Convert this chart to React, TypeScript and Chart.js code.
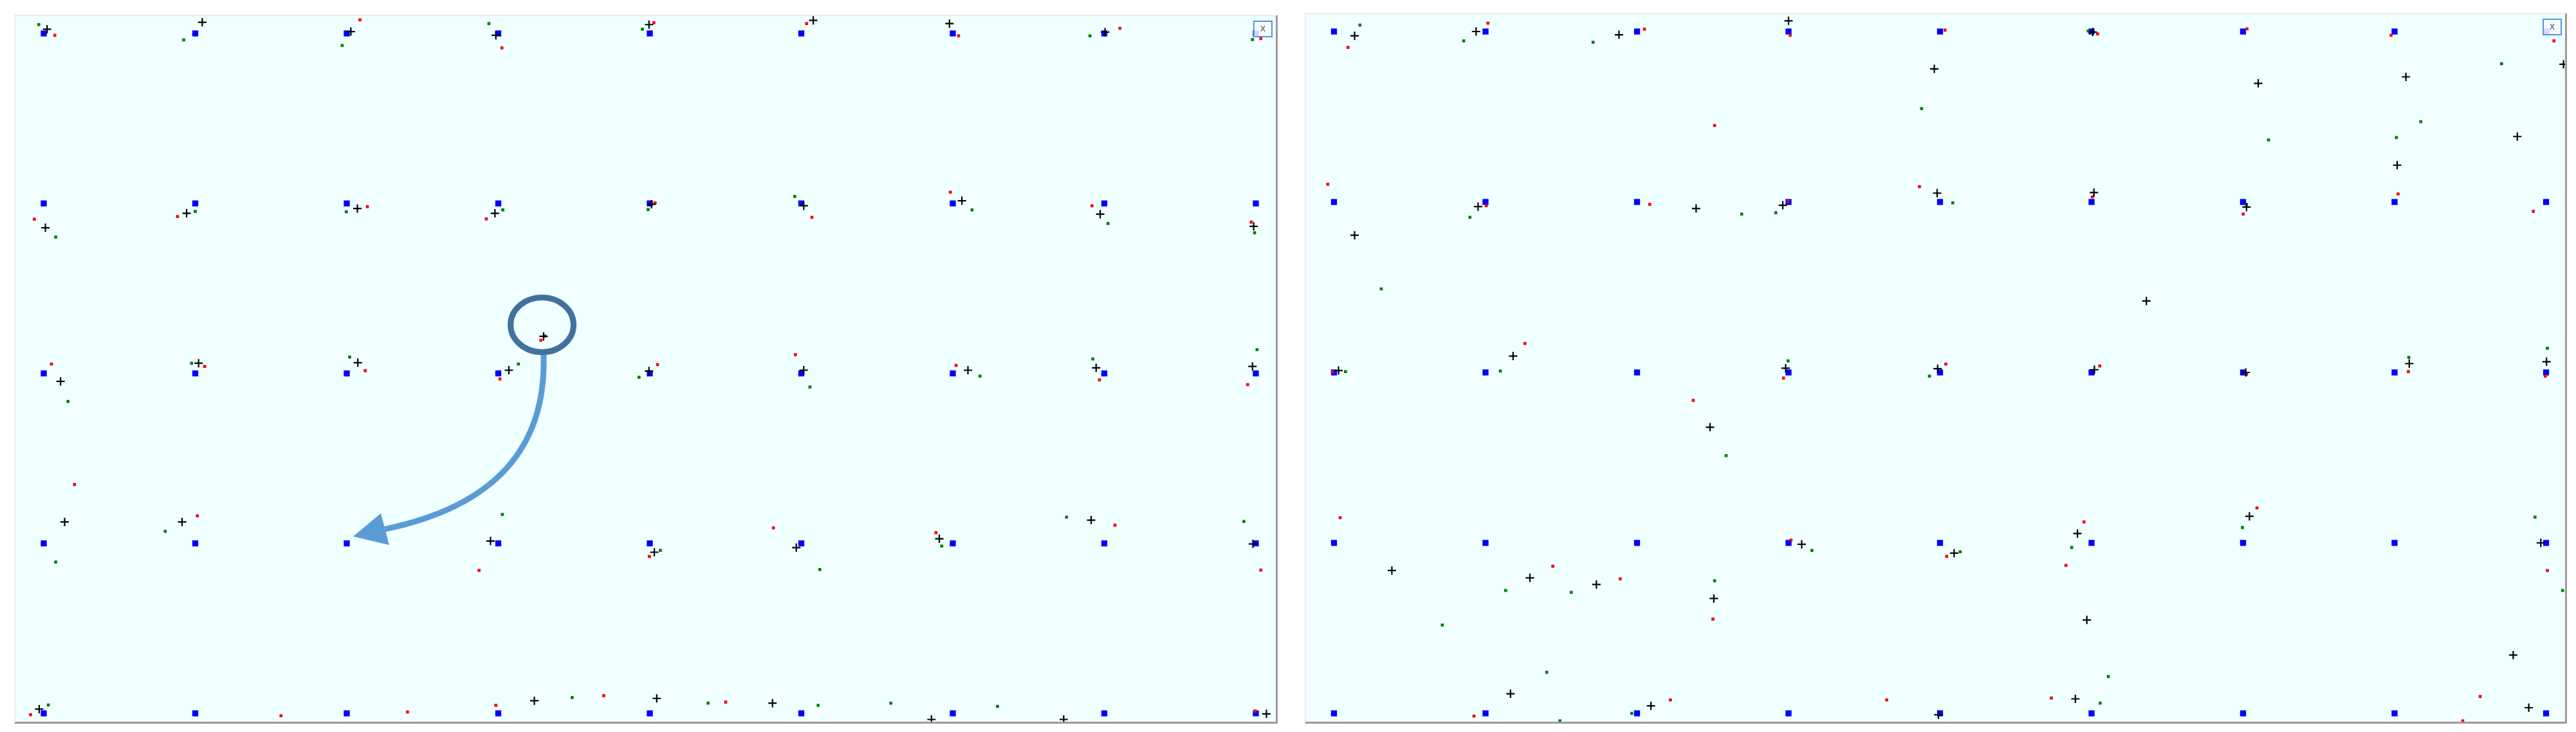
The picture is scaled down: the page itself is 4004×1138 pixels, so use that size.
import React, { useEffect, useRef } from 'react';
import { Chart, registerables } from 'chart.js';
Chart.register(...registerables);

// grid of reference points (blue squares)
const gridCols = [0, 1, 2, 3, 4, 5, 6, 7, 8];
const gridRows = [0, 1, 2, 3, 4];

// ---- left panel ----
const leftRed: [number, number][] = [
  [0.073, 3.989], [2.087, 4.08], [3.024, 3.915], [4.027, 4.063], [5.035, 4.058], [6.038, 3.986], [7.103, 4.03], [8.033, 3.97],
  [-0.062, 2.907], [0.883, 2.923], [2.136, 2.981], [2.921, 2.909], [4.035, 3.003], [5.07, 2.918], [5.984, 3.066], [6.919, 2.986], [7.97, 2.89],
  [0.051, 2.055], [1.062, 2.041], [2.122, 2.016], [3.011, 1.967], [3.281, 2.195], [4.051, 2.052], [4.961, 2.11], [6.022, 2.047], [6.968, 1.962], [7.946, 1.934],
  [0.203, 1.346], [1.014, 1.162], [2.873, 0.841], [3.997, 0.923], [4.816, 1.091], [5.889, 1.063], [7.07, 1.107], [8.033, 0.843],
  [-0.087, -0.008], [1.566, -0.014], [2.401, 0.008], [2.984, 0.047], [3.696, 0.104], [4.501, 0.066], [7.995, 0.014],
];
const leftGreen: [number, number][] = [
  [-0.033, 4.052], [0.924, 3.962], [1.97, 3.929], [2.938, 4.058], [3.951, 4.025], [6.905, 3.986], [7.978, 3.964],
  [0.079, 2.802], [1.0, 2.953], [1.997, 2.951], [3.03, 2.962], [3.989, 2.964], [4.957, 3.041], [6.127, 2.962], [7.024, 2.882], [7.992, 2.827],
  [0.16, 1.835], [0.976, 2.06], [2.019, 2.096], [3.133, 2.055], [3.307, 2.22], [3.929, 1.977], [5.057, 1.92], [6.179, 1.984], [6.924, 2.085], [8.008, 2.14],
  [0.079, 0.89], [0.802, 1.071], [3.027, 1.17], [4.07, 0.959], [5.122, 0.846], [5.927, 0.984], [6.751, 1.154], [7.921, 1.129],
  [0.03, 0.049], [3.488, 0.093], [4.385, 0.06], [5.111, 0.047], [5.591, 0.06], [6.295, 0.041],
];
const leftPlus: [number, number][] = [
  [0.022, 4.025], [1.046, 4.066], [2.027, 4.011], [2.984, 3.989], [3.995, 4.052], [5.079, 4.077], [5.978, 4.058], [7.005, 4.008],
  [0.011, 2.857], [0.943, 2.942], [2.07, 2.97], [2.978, 2.942], [4.011, 2.995], [5.016, 2.986], [6.06, 3.016], [6.973, 2.937], [7.986, 2.865],
  [0.111, 1.953], [1.022, 2.06], [2.073, 2.063], [3.07, 2.019], [3.299, 2.218], [3.995, 2.014], [5.016, 2.019], [6.1, 2.019], [6.946, 2.033], [7.978, 2.041],
  [0.138, 1.126], [0.913, 1.126], [2.949, 1.014], [4.03, 0.948], [4.967, 0.975], [5.911, 1.027], [6.913, 1.137], [7.981, 0.997],
  [-0.03, 0.025], [3.238, 0.074], [4.046, 0.088], [4.81, 0.06], [5.859, -0.036], [6.732, -0.036], [8.07, -0.003],
];

// ---- right panel ----
const rightRed: [number, number][] = [
  [0.092, 3.907], [1.016, 4.049], [2.049, 4.014], [3.011, 3.978], [2.512, 3.449], [4.033, 4.008], [5.04, 3.986], [6.026, 4.016], [6.977, 3.978], [8.052, 3.945],
  [-0.041, 3.104], [1.005, 2.978], [2.084, 2.986], [2.997, 3.005], [3.864, 3.09], [5.005, 3.03], [6.001, 2.929], [7.023, 3.047], [7.916, 2.945],
  [-0.011, 2.003], [1.26, 2.17], [2.371, 1.836], [2.967, 1.967], [4.038, 2.049], [5.054, 2.038], [6.023, 1.989], [7.091, 2.005], [7.995, 1.978],
  [0.041, 1.148], [1.444, 0.863], [1.889, 0.789], [2.501, 0.553], [3.016, 1.016], [4.044, 0.921], [4.95, 1.123], [4.831, 0.868], [6.092, 1.205], [8.009, 0.838],
  [0.924, -0.016], [2.22, 0.079], [3.648, 0.079], [4.735, 0.09], [7.565, 0.099], [7.45, -0.044],
];
const rightGreen: [number, number][] = [
  [0.171, 4.038], [0.856, 3.945], [1.71, 3.937], [3.878, 3.548], [4.978, 4.003], [6.168, 3.364], [7.173, 3.471], [7.012, 3.378], [7.706, 3.811],
  [0.312, 2.49], [0.897, 2.91], [2.691, 2.929], [2.916, 2.937], [4.084, 2.995], [6.023, 2.984],
  [0.076, 2.005], [1.098, 2.008], [2.588, 1.512], [2.997, 2.068], [3.93, 1.978], [7.094, 2.088], [8.009, 2.142],
  [0.715, 0.518], [1.133, 0.721], [1.566, 0.71], [3.154, 0.956], [2.512, 0.778], [4.133, 0.948], [4.869, 0.973], [5.996, 1.09], [7.927, 1.151], [8.109, 0.721], [5.111, 0.216],
  [1.404, 0.241], [1.491, -0.044], [1.965, 0.0], [5.057, 0.06],
];
const rightPlus: [number, number][] = [
  [0.136, 3.975], [0.938, 4.0], [1.881, 3.981], [3.0, 4.063], [5.008, 3.997], [6.1, 3.696], [7.075, 3.734], [7.017, 3.216], [8.115, 3.808], [7.81, 3.384], [3.962, 3.781],
  [0.136, 2.805], [0.951, 2.973], [2.39, 2.962], [2.962, 2.981], [3.981, 3.052], [5.016, 3.055], [6.023, 2.97], [5.362, 2.419],
  [0.03, 2.011], [1.182, 2.096], [2.482, 1.679], [2.981, 2.025], [3.984, 2.022], [5.019, 2.016], [6.018, 2.0], [7.097, 2.052], [8.003, 2.063],
  [0.382, 0.838], [1.293, 0.795], [1.732, 0.756], [2.507, 0.674], [3.087, 0.992], [4.093, 0.94], [4.907, 1.055], [4.969, 0.548], [6.042, 1.156], [7.965, 1.0],
  [1.165, 0.115], [2.092, 0.044], [3.989, -0.008], [4.893, 0.085], [7.783, 0.342], [7.886, 0.033],
];

// annotation (left panel), in data units
const circleCenter = [3.289, 2.286];
const circleRadii = [0.208, 0.161];
const arrowCurve = [[3.299, 2.115], [3.321, 1.548], [2.96, 1.215], [2.252, 1.084]];
const arrowHead = [[2.042, 1.041], [2.225, 1.177], [2.28, 0.991]];

const toPts = (arr: [number, number][]) => arr.map(([x, y]) => ({ x, y }));
const gridPts = gridRows.flatMap((r) => gridCols.map((c) => ({ x: c, y: r })));

const annotPlugin = {
  id: 'annot',
  afterDatasetsDraw(chart: any, _args: any, opts: any) {
    if (!opts || !opts.enabled) return;
    const { ctx } = chart;
    const xs = chart.scales.x, ys = chart.scales.y;
    const px = (v: number) => xs.getPixelForValue(v);
    const py = (v: number) => ys.getPixelForValue(v);
    ctx.save();
    ctx.strokeStyle = '#5b9bd5';
    ctx.lineWidth = 9;
    ctx.beginPath();
    ctx.moveTo(px(arrowCurve[0][0]), py(arrowCurve[0][1]));
    ctx.bezierCurveTo(
      px(arrowCurve[1][0]), py(arrowCurve[1][1]),
      px(arrowCurve[2][0]), py(arrowCurve[2][1]),
      px(arrowCurve[3][0]), py(arrowCurve[3][1])
    );
    ctx.stroke();
    ctx.fillStyle = '#5b9bd5';
    ctx.beginPath();
    ctx.moveTo(px(arrowHead[0][0]), py(arrowHead[0][1]));
    ctx.lineTo(px(arrowHead[1][0]), py(arrowHead[1][1]));
    ctx.lineTo(px(arrowHead[2][0]), py(arrowHead[2][1]));
    ctx.closePath();
    ctx.fill();
    const cx = px(circleCenter[0]), cy = py(circleCenter[1]);
    const rx = Math.abs(px(circleCenter[0] + circleRadii[0]) - cx);
    const ry = Math.abs(py(circleCenter[1] + circleRadii[1]) - cy);
    ctx.strokeStyle = '#41719c';
    ctx.lineWidth = 9;
    ctx.beginPath();
    ctx.ellipse(cx, cy, rx, ry, 0, 0, Math.PI * 2);
    ctx.stroke();
    ctx.restore();
  },
};

type PanelProps = {
  left: number; top: number; width: number; height: number;
  xMin: number; xMax: number; yMin: number; yMax: number;
  red: [number, number][]; green: [number, number][]; plus: [number, number][];
  annotate: boolean;
};

function Panel(p: PanelProps) {
  const ref = useRef<HTMLCanvasElement | null>(null);
  useEffect(() => {
    if (!ref.current) return;
    const chart = new Chart(ref.current, {
      type: 'scatter',
      data: {
        datasets: [
          { data: toPts(p.plus), pointStyle: 'cross', pointRadius: 6.5, borderColor: '#000000', borderWidth: 2.2, order: 0, clip: false } as any,
          { data: toPts(p.green), pointStyle: 'rect', pointRadius: 3.3, backgroundColor: '#008000', borderWidth: 0, order: 1, clip: false } as any,
          { data: toPts(p.red), pointStyle: 'rect', pointRadius: 3.3, backgroundColor: '#ff0000', borderWidth: 0, order: 2, clip: false } as any,
          { data: gridPts, pointStyle: 'rect', pointRadius: 6.6, backgroundColor: '#0000ff', borderWidth: 0, order: 3, clip: false } as any,
        ],
      },
      options: {
        animation: false,
        responsive: false,
        maintainAspectRatio: false,
        events: [],
        layout: { padding: 0, autoPadding: false },
        plugins: {
          legend: { display: false },
          tooltip: { enabled: false },
          annot: { enabled: p.annotate },
        } as any,
        scales: {
          x: { type: 'linear', min: p.xMin, max: p.xMax, display: false },
          y: { type: 'linear', min: p.yMin, max: p.yMax, display: false },
        },
      },
      plugins: [annotPlugin as any],
    });
    return () => chart.destroy();
  }, []);
  return (
    <div
      style={{
        position: 'absolute',
        left: p.left - 2,
        top: p.top - 2,
        width: p.width,
        height: p.height,
        borderTop: '2px solid #ececec',
        borderLeft: '2px solid #ececec',
        borderRight: '3px solid #9a9a9a',
        borderBottom: '3px solid #9a9a9a',
        background: '#f0ffff',
      }}
    >
      <canvas ref={ref} width={p.width} height={p.height} style={{ display: 'block', width: p.width, height: p.height }} />
      <div
        style={{
          position: 'absolute',
          right: 5,
          top: 7,
          width: 26,
          height: 22,
          border: '2px solid #4f96dc',
          background: 'rgba(245,252,255,0.85)',
          color: '#666',
          fontFamily: 'DejaVu Sans, sans-serif',
          fontSize: 15,
          lineHeight: '20px',
          textAlign: 'center',
        }}
      >
        x
      </div>
    </div>
  );
}

export default function App() {
  return (
    <div style={{ position: 'absolute', left: 0, top: 0, width: 4004, height: 1138, background: '#ffffff' }}>
      <Panel left={24} top={25} width={1959} height={1097}
        xMin={-0.1868} xMax={8.1317} yMin={-0.0492} yMax={4.1022}
        red={leftRed} green={leftGreen} plus={leftPlus} annotate={true} />
      <Panel left={2030} top={22} width={1957} height={1100}
        xMin={-0.1847} xMax={8.1253} yMin={-0.049} yMax={4.1019}
        red={rightRed} green={rightGreen} plus={rightPlus} annotate={false} />
    </div>
  );
}
